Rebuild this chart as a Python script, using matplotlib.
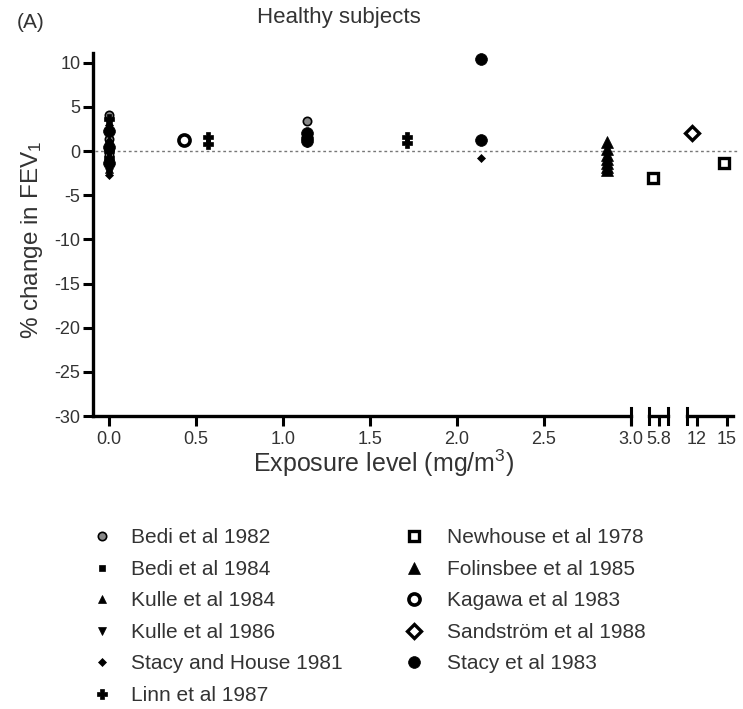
import matplotlib
matplotlib.use("Agg")
import matplotlib.pyplot as plt
from matplotlib.lines import Line2D
from matplotlib.transforms import blended_transform_factory

plt.rcParams['font.family'] = ['Liberation Sans', 'DejaVu Sans']
plt.rcParams['axes.unicode_minus'] = False
plt.rcParams['mathtext.fontset'] = 'custom'
plt.rcParams['mathtext.rm'] = 'Liberation Sans'
plt.rcParams['mathtext.it'] = 'Liberation Sans'

# ---------------- data ----------------
studies = ["Bedi et al 1982", "Bedi et al 1984", "Kulle et al 1984", "Kulle et al 1986",
           "Stacy and House 1981", "Linn et al 1987", "Newhouse et al 1978",
           "Folinsbee et al 1985", "Kagawa et al 1983", "Sandström et al 1988",
           "Stacy et al 1983"]

bedi82_x = [0, 0, 0, 1.14]
bedi82_y = [4.1, 1.4, -0.5, 3.4]
bedi84_x = [0, 0, 0, 0]
bedi84_y = [3.2, 0.3, -1.6, 2.0]
kulle84_x = [0, 0, 0, 0]
kulle84_y = [2.6, 0.8, -2.0, 1.2]
kulle86_x = [0, 0, 0, 0]
kulle86_y = [1.9, -0.2, -2.4, 0.6]
stacyhouse_x = [0, 0, 0, 0, 1.14, 2.14]
stacyhouse_y = [1.1, -1.2, -2.7, 3.0, 0.9, -0.8]
linn_x = [0, 0, 0, 0.57, 0.57, 1.71, 1.71]
linn_y = [3.6, 0.0, -0.8, 1.6, 0.8, 1.6, 0.9]
newhouse_x = [5.63, 14.7]
newhouse_y = [-3.0, -1.3]
folinsbee_x = [2.86, 2.86, 2.86, 2.86, 2.86, 2.86, 2.86]
folinsbee_y = [1.0, 0.2, -0.4, -0.9, -1.4, -1.8, -2.1]
kagawa_x = [0.43]
kagawa_y = [1.2]
sandstrom_x = [11.5]
sandstrom_y = [2.0]
stacy83_x = [0, 0, 0, 1.14, 1.14, 1.14, 2.14, 2.14]
stacy83_y = [0.5, -1.4, 2.3, 2.0, 1.5, 1.1, 10.4, 1.2]

series_x = [bedi82_x, bedi84_x, kulle84_x, kulle86_x, stacyhouse_x, linn_x,
            newhouse_x, folinsbee_x, kagawa_x, sandstrom_x, stacy83_x]
series_y = [bedi82_y, bedi84_y, kulle84_y, kulle86_y, stacyhouse_y, linn_y,
            newhouse_y, folinsbee_y, kagawa_y, sandstrom_y, stacy83_y]

yticks = [-30, -25, -20, -15, -10, -5, 0, 5, 10]
seg_limits = [(-0.092, 3.0), (5.5, 6.1), (11.0, 15.6)]
seg_ticks = [[0.0, 0.5, 1.0, 1.5, 2.0, 2.5, 3.0], [5.8], [12, 15]]
seg_ticklabels = [["0.0", "0.5", "1.0", "1.5", "2.0", "2.5", "3.0"], ["5.8"], ["12", "15"]]

# ---------------- styles ----------------
styles = [
    dict(marker='o', ms=6.0, mfc='#888888', mec='black', mew=1.2),
    dict(marker='s', ms=5.0, mfc='black', mec='black', mew=0.5),
    dict(marker='^', ms=5.5, mfc='black', mec='black', mew=0.5),
    dict(marker='v', ms=5.5, mfc='black', mec='black', mew=0.5),
    dict(marker='D', ms=4.5, mfc='black', mec='black', mew=0.5),
    dict(marker='P', ms=7.0, mfc='black', mec='black', mew=0.5),
    dict(marker='s', ms=7.0, mfc='white', mec='black', mew=2.4),
    dict(marker='^', ms=8.0, mfc='black', mec='black', mew=0.5),
    dict(marker='o', ms=8.0, mfc='white', mec='black', mew=2.6),
    dict(marker='D', ms=7.0, mfc='white', mec='black', mew=2.4),
    dict(marker='o', ms=8.5, mfc='black', mec='black', mew=0.5),
]

TXT = '#333333'
W, H = 743, 709
fig = plt.figure(figsize=(W / 100, H / 100), dpi=100)

def fx(px):
    return px / W

def fy(py):
    return 1 - py / H

ax_top, ax_bot = 53, 416
seg_px = [(93, 631), (649, 668), (687, 733)]
axes = []
for i, (l, r) in enumerate(seg_px):
    ax = fig.add_axes([fx(l), fy(ax_bot), fx(r - l), fy(ax_top) - fy(ax_bot)])
    ax.set_xlim(*seg_limits[i])
    ax.set_ylim(-30, 11.1)
    for s in ['top', 'right']:
        ax.spines[s].set_visible(False)
    ax.spines['bottom'].set_linewidth(2.4)
    ax.set_xticks(seg_ticks[i])
    ax.set_xticklabels(seg_ticklabels[i], fontsize=13, color=TXT)
    ax.tick_params(axis='x', length=7, width=2.2, pad=4)
    if i == 0:
        ax.spines['left'].set_linewidth(2.4)
        ax.set_yticks(yticks)
        ax.set_yticklabels([str(v) for v in yticks], fontsize=13, color=TXT)
        ax.tick_params(axis='y', length=7, width=2.2, pad=2)
    else:
        ax.spines['left'].set_visible(False)
        ax.set_yticks([])
    ax.patch.set_alpha(0)
    tr = ax.get_xaxis_transform()
    lo, hi = seg_limits[i]
    cap = 8 / (ax_bot - ax_top)
    if i > 0:
        ax.plot([lo, lo], [-cap, cap], transform=tr, color='black', lw=2.2, clip_on=False)
    if i < len(seg_px) - 1:
        ax.plot([hi, hi], [-cap, cap], transform=tr, color='black', lw=2.2, clip_on=False)
    for xs, ys, st in zip(series_x, series_y, styles):
        pts = [(x, y) for x, y in zip(xs, ys) if lo <= x <= hi]
        if pts:
            ax.plot([p[0] for p in pts], [p[1] for p in pts], ls='none', clip_on=False,
                    zorder=3, **st)
    axes.append(ax)

# dotted zero line spanning all segments
ax0 = axes[0]
btr = blended_transform_factory(fig.transFigure, ax0.transData)
ax0.plot([fx(95), fx(738)], [0, 0], transform=btr, color='#777777', lw=1.0,
         ls=(0, (2, 2)), zorder=1, clip_on=False)

ax0.set_ylabel("% change in FEV$_1$", fontsize=17.5, color=TXT)
ax0.yaxis.set_label_coords((45 - 93) / (631 - 93), (ax_bot - 240) / (ax_bot - ax_top))
fig.text(fx(384), fy(463), "Exposure level (mg/m$^{3}$)", fontsize=18, color=TXT,
         ha='center', va='center')
fig.text(fx(257), fy(18), "Healthy subjects", fontsize=16, color=TXT,
         ha='left', va='center')
fig.text(fx(17), fy(22), "(A)", fontsize=15, color=TXT, ha='left', va='center')

# legends
handles = [Line2D([], [], ls='none', **st) for st in styles]
leg1 = fig.legend(handles[:6], studies[:6], loc='upper left',
                  bbox_to_anchor=(fx(83), fy(520)), frameon=False, fontsize=15,
                  handletextpad=0.9, labelspacing=0.6, handlelength=1.0, borderaxespad=0)
for t in leg1.get_texts():
    t.set_color(TXT)
leg2 = fig.legend(handles[6:], studies[6:], loc='upper left',
                  bbox_to_anchor=(fx(395), fy(520)), frameon=False, fontsize=15,
                  handletextpad=1.1, labelspacing=0.6, handlelength=1.0, borderaxespad=0)
for t in leg2.get_texts():
    t.set_color(TXT)

fig.savefig("out.png", dpi=100)
